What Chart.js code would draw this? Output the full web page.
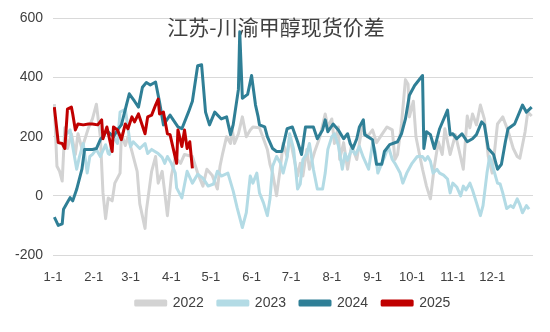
<!DOCTYPE html>
<html>
<head>
<meta charset="utf-8">
<script src="https://cdn.jsdelivr.net/npm/chart.js@4.4.1/dist/chart.umd.min.js"></script>
<style>
  html, body { margin: 0; padding: 0; background: #fff; }
  #wrap { width: 550px; height: 332px; }
</style>
</head>
<body>
<div id="wrap"><canvas id="spreadChart"></canvas></div>
<script>
// month ticks (day of year) and their labels
const monthDays = [0, 31, 59, 90, 120, 151, 181, 212, 243, 273, 304, 334];
const monthLabels = ['1-1', '2-1', '3-1', '4-1', '5-1', '6-1', '7-1', '8-1', '9-1', '10-1', '11-1', '12-1'];
const yTicks = [-200, 0, 200, 400, 600];

// 2022 spread (day of year / value)
const days2022 = [1,3,5,7,9,11,14,17,19,22,27,30,33,36,38,40,42,45,47,51,52,55,57,60,64,66,70,71,75,78,80,83,85,87,90,93,97,100,106,110,114,117,121,125,127,129,132,135,136,138,141,144,147,150,152,157,163,165,167,170,173,175,178,180,183,186,188,190,193,195,199,203,207,209,212,214,217,218,221,224,227,231,235,239,243,246,250,254,258,260,262,265,268,270,271,274,276,279,281,284,287,290,293,296,298,302,306,309,312,315,317,319,322,325,328,331,334,336,338,342,346,350,353,355,359,361,364];
const vals2022 = [310,100,83,50,230,160,210,140,210,160,230,260,310,200,10,-77,-7,-17,43,77,210,170,200,150,83,-27,-110,-50,83,133,43,83,10,-67,67,130,110,140,133,77,33,90,70,23,100,143,200,177,233,177,210,267,200,223,233,230,157,107,77,0,100,177,133,200,133,67,110,67,157,90,150,200,277,233,260,177,233,123,180,90,170,123,233,200,223,180,207,233,223,123,140,243,393,377,267,320,200,133,90,33,-10,100,183,140,227,140,207,150,90,270,230,277,240,307,260,133,77,160,243,267,220,160,133,127,217,283,270];

// 2023
const days2023 = [9,13,15,18,20,23,26,28,30,33,36,40,42,43,46,49,51,55,59,61,66,70,72,75,80,83,85,87,90,93,94,98,102,106,110,114,118,122,125,128,133,137,140,144,147,150,152,155,157,160,163,165,167,170,173,175,178,180,183,186,188,190,193,195,198,201,205,207,209,212,214,217,220,222,224,227,230,233,236,240,243,245,247,250,252,255,258,260,264,266,269,273,277,281,283,285,287,289,292,294,297,300,302,304,307,310,312,314,317,319,322,325,327,330,332,335,338,340,342,345,348,350,353,355,357,360,362];
const vals2023 = [200,223,167,90,130,177,77,133,140,157,133,173,143,140,200,177,283,293,167,183,160,177,143,157,143,130,110,133,110,77,27,-7,83,43,73,60,33,40,83,67,77,17,-40,-107,-57,67,43,77,10,-23,-67,-10,100,133,110,77,130,210,157,23,40,123,143,177,90,23,23,77,157,200,210,170,90,143,120,157,140,167,130,90,177,150,77,110,130,167,123,110,77,43,77,110,133,133,120,133,117,77,90,77,70,57,10,43,30,0,33,20,43,20,-23,-67,-33,77,133,90,43,40,10,-43,-33,-40,-10,-30,-57,-33,-45];

// 2024
const days2024 = [1,4,7,8,11,13,15,18,22,24,30,33,36,41,46,49,52,56,58,62,65,68,71,74,78,81,84,89,95,98,103,106,110,113,116,119,123,128,132,135,137,141,142,144,148,151,154,156,157,161,163,167,170,174,178,182,186,189,192,198,201,205,207,209,213,217,221,224,226,228,231,233,236,237,243,246,250,252,256,262,265,268,271,275,281,282,284,287,290,294,300,302,304,307,311,315,319,322,326,328,331,335,338,341,344,346,351,357,360,364];
const vals2024 = [-72,-100,-95,-45,-22,-6,-17,22,90,157,157,160,190,220,200,223,240,310,345,320,300,367,383,375,385,317,240,273,233,227,283,320,440,443,283,240,283,260,267,207,240,360,555,330,343,407,307,267,240,233,200,160,150,150,227,233,183,140,233,233,193,223,257,217,243,223,193,210,177,160,193,233,257,207,190,107,107,150,173,183,210,260,340,373,407,160,217,207,160,227,290,207,210,193,210,183,193,207,250,240,160,140,90,107,183,227,243,307,283,300];

// 2025
const days2025 = [1,4,7,9,11,14,15,17,19,23,27,30,34,37,38,41,45,46,49,52,55,57,60,62,65,70,72,75,78,80,81,84,87,89,94,95,98,100,102,104,106];
const vals2025 = [300,180,177,160,293,300,277,223,243,240,243,243,240,257,193,233,150,233,223,190,243,227,267,250,277,210,267,273,307,327,277,283,210,207,110,223,167,223,160,183,93];

const toPoints = (days, vals) => days.map((d, i) => ({ x: d, y: vals[i] }));

const series = [
  { label: '2022', days: days2022, vals: vals2022, color: '#d3d3d3', order: 4 },
  { label: '2023', days: days2023, vals: vals2023, color: '#b3dbe5', order: 3 },
  { label: '2024', days: days2024, vals: vals2024, color: '#2f7f96', order: 2 },
  { label: '2025', days: days2025, vals: vals2025, color: '#c00000', order: 1 }
];

// title sits inside the plot, under the lines
const titlePlugin = {
  id: 'innerTitle',
  beforeDatasetsDraw(chart) {
    const ctx = chart.ctx;
    ctx.save();
    ctx.font = '21px "Noto Sans CJK SC"';
    ctx.fillStyle = '#404040';
    ctx.textAlign = 'center';
    ctx.textBaseline = 'middle';
    ctx.fillText('江苏-川渝甲醇现货价差', 276, 27);
    ctx.restore();
  }
};

const ctx = document.getElementById('spreadChart').getContext('2d');
const chart = new Chart(ctx, {
  type: 'line',
  data: {
    datasets: series.map(s => ({
      label: s.label,
      data: toPoints(s.days, s.vals),
      borderColor: s.color,
      backgroundColor: s.color,
      borderWidth: 3,
      pointRadius: 0,
      tension: 0,
      fill: false,
      order: s.order,
      borderJoinStyle: 'round'
    }))
  },
  options: {
    responsive: true,
    maintainAspectRatio: false,
    animation: false,
    layout: { padding: { left: 0, right: 17, top: 17, bottom: 12 } },
    plugins: {
      tooltip: { enabled: false },
      legend: {
        position: 'bottom',
        fullSize: false,
        labels: {
          sort: (a, b) => a.datasetIndex - b.datasetIndex,
          boxWidth: 30,
          boxHeight: 4,
          padding: 14,
          color: '#404040',
          font: { family: '"Liberation Sans", sans-serif', size: 14 }
        }
      }
    },
    scales: {
      x: {
        type: 'linear',
        min: 0,
        max: 365,
        afterBuildTicks: scale => { scale.ticks = monthDays.map(v => ({ value: v })); },
        afterFit: scale => { scale.height = 27; },
        grid: { display: false, drawTicks: false },
        border: { display: false },
        ticks: {
          autoSkip: false,
          maxRotation: 0,
          padding: 15,
          color: '#404040',
          font: { family: '"Liberation Sans", sans-serif', size: 13 },
          callback: (v) => monthLabels[monthDays.indexOf(v)]
        }
      },
      y: {
        min: -200,
        max: 600,
        afterBuildTicks: scale => { scale.ticks = yTicks.map(v => ({ value: v })); },
        afterFit: scale => { scale.width = 53; },
        grid: { color: '#d9d9d9', lineWidth: 1, drawTicks: false },
        border: { display: false },
        ticks: {
          padding: 10,
          color: '#404040',
          font: { family: '"Liberation Sans", sans-serif', size: 14 }
        }
      }
    }
  },
  plugins: [titlePlugin]
});
</script>
</body>
</html>
